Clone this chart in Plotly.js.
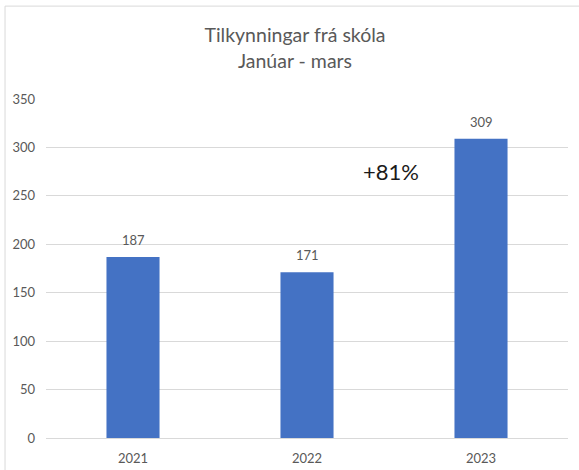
<!DOCTYPE html>
<html>
<head>
<meta charset="utf-8">
<script src="https://cdn.plot.ly/plotly-3.0.1.min.js"></script>
<style>html,body{margin:0;padding:0;background:#fff;}#chart{width:579px;height:470px;}</style>
</head>
<body>
<div id="chart"></div>
<script>
const years = ['2021', '2022', '2023'];
const counts = [187, 171, 309];
const yTicks = [0, 50, 100, 150, 200, 250, 300, 350];
const changeLabel = '+81%';
const changePos = {x: 1.48, y: 275};

const FONT = 'Lato, "Liberation Sans", sans-serif';
const GREY = '#595959';

const trace = {
  type: 'bar',
  x: years,
  y: counts,
  marker: {color: '#4472C4'},
  width: 0.305,
  hoverinfo: 'x+y'
};

const annotations = counts.map((v, i) => ({
  x: i, y: v, xref: 'x', yref: 'y',
  text: String(v), showarrow: false,
  yanchor: 'bottom', yshift: 7,
  font: {family: FONT, size: 13, color: GREY}
}));
annotations.push({
  x: changePos.x, y: changePos.y, xref: 'x', yref: 'y',
  text: changeLabel, showarrow: false,
  font: {family: FONT, size: 22, color: '#1a1a1a'}
});

const layout = {
  width: 579, height: 470,
  margin: {l: 46, r: 11, t: 99, b: 32},
  paper_bgcolor: '#fff', plot_bgcolor: '#fff',
  showlegend: false,
  title: {
    text: 'Tilkynningar frá skóla<br>Janúar - mars',
    font: {family: FONT, size: 19.5, color: GREY},
    x: 0.5095, xanchor: 'center', xref: 'container',
    y: 0.91, yanchor: 'middle', yref: 'container'
  },
  xaxis: {
    type: 'category',
    range: [-0.5, 2.5],
    showgrid: false, zeroline: false,
    showline: true, linecolor: '#d9d9d9', linewidth: 1,
    ticks: '', ticklabelstandoff: 8,
    tickfont: {family: FONT, size: 13, color: GREY}
  },
  yaxis: {
    range: [0, 350],
    tickvals: yTicks,
    showgrid: true, gridcolor: '#d9d9d9', gridwidth: 1,
    zeroline: false, showline: false,
    ticks: '', ticklabelstandoff: 10,
    tickfont: {family: FONT, size: 13, color: GREY}
  },
  annotations: annotations,
  shapes: [
    {type: 'line', xref: 'paper', yref: 'paper', x0: -0.0785, x1: -0.0785, y0: 1.274, y1: -0.2, line: {color: '#d9d9d9', width: 1}},
    {type: 'line', xref: 'paper', yref: 'paper', x0: -0.0785, x1: 1.1, y0: 1.274, y1: 1.274, line: {color: '#d9d9d9', width: 1}}
  ]
};

Plotly.newPlot('chart', [trace], layout, {displayModeBar: false, staticPlot: true});
</script>
</body>
</html>
